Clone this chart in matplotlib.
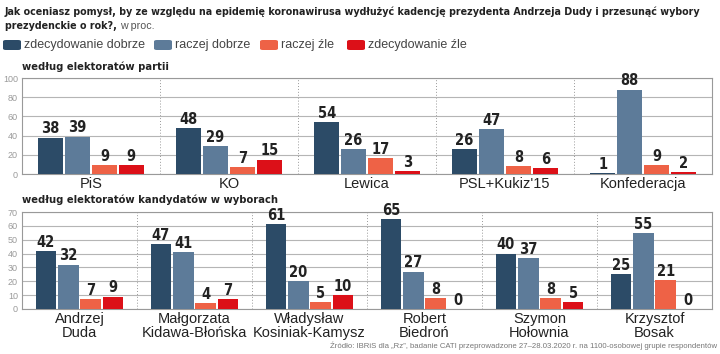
import matplotlib
matplotlib.use("Agg")
import matplotlib.pyplot as plt
import numpy as np
from matplotlib.patches import FancyBboxPatch
from matplotlib import font_manager
from matplotlib.font_manager import FontProperties
import logging
logging.getLogger('matplotlib.font_manager').setLevel(logging.ERROR)

series = ["zdecydowanie dobrze", "raczej dobrze", "raczej źle", "zdecydowanie źle"]
colors = ["#2c4b67", "#5d7b99", "#ee6246", "#dc1018"]

parties = ["PiS", "KO", "Lewica", "PSL+Kukiz'15", "Konfederacja"]
party_vals = [
    [38, 48, 54, 26, 1],
    [39, 29, 26, 47, 88],
    [9, 7, 17, 8, 9],
    [9, 15, 3, 6, 2],
]

candidates = ["Andrzej\nDuda", "Małgorzata\nKidawa-Błońska", "Władysław\nKosiniak-Kamysz",
              "Robert\nBiedroń", "Szymon\nHołownia", "Krzysztof\nBosak"]
cand_vals = [
    [42, 47, 61, 65, 40, 25],
    [32, 41, 20, 27, 37, 55],
    [7, 4, 5, 8, 8, 21],
    [9, 7, 10, 0, 5, 0],
]

names = {f.name for f in font_manager.fontManager.ttflist}
fams = [f for f in ["Liberation Sans Narrow", "Liberation Sans", "DejaVu Sans"] if f in names]
plt.rcParams['font.family'] = fams

# look for a condensed bold face for titles / value labels
cond_bold = None
for f in font_manager.fontManager.ttflist:
    fn = f.fname.lower()
    if ("condensed" in fn or "narrow" in fn) and "italic" not in fn and "oblique" not in fn:
        if "bold" in fn and cond_bold is None:
            cond_bold = f.fname

def fp_bold(size):
    if cond_bold:
        return FontProperties(fname=cond_bold, size=size)
    return FontProperties(family=fams, weight="bold", size=size)

def fp_reg(size):
    return FontProperties(family=fams, size=size)

fig = plt.figure(figsize=(7.2, 3.54), dpi=100)
fig.patch.set_facecolor("white")

def draw(ax, cats, vals, ymax, ystep):
    n = len(cats)
    step = 0.195
    width = 0.178
    for k in range(4):
        for i in range(n):
            x = i + (k - 1.5) * step
            v = vals[k][i]
            ax.bar(x, v, width=width, color=colors[k], zorder=3)
            ax.text(x, v + ymax * 0.012, str(v), ha="center", va="bottom",
                    fontproperties=fp_bold(10.5), color="#222222", zorder=4)
    ax.set_xlim(-0.5, n - 0.5)
    ax.set_ylim(0, ymax)
    ax.set_yticks(np.arange(0, ymax + 1, ystep))
    ax.tick_params(axis="y", length=0, labelsize=6.5, labelcolor="#9a9a9a", pad=3)
    ax.set_xticks(range(n))
    ax.set_xticklabels(cats, fontsize=10.5, color="#222222", linespacing=1.0)
    ax.tick_params(axis="x", length=0, pad=2)
    ax.grid(axis="y", color="#b5b5b5", linewidth=0.8, zorder=0)
    for i in range(1, n):
        ax.axvline(i - 0.5, color="#999999", linestyle=(0, (1, 2)), linewidth=0.7, zorder=1)
    for s in ax.spines.values():
        s.set_color("#999999")
        s.set_linewidth(0.8)

ax1 = fig.add_axes([22 / 720, 1 - 174 / 354, 690 / 720, 96 / 354])
draw(ax1, parties, party_vals, 100, 20)
ax2 = fig.add_axes([22 / 720, 1 - 309 / 354, 690 / 720, 97 / 354])
draw(ax2, candidates, cand_vals, 70, 10)

title1 = fig.text(5 / 720, 1 - 12 / 354,
         "Jak oceniasz pomysł, by ze względu na epidemię koronawirusa wydłużyć kadencję prezydenta Andrzeja Dudy i przesunąć wybory",
         fontproperties=fp_bold(9), color="#222222", va="center", ha="left")
fig.canvas.draw()
w = title1.get_window_extent().width
fs = min(9.5, 9 * 700 / w)
title1.set_fontsize(fs)
t = fig.text(5 / 720, 1 - 26 / 354, "prezydenckie o rok?,", fontproperties=fp_bold(fs),
             color="#222222", va="center", ha="left")
fig.canvas.draw()
bb = t.get_window_extent()
fig.text(bb.x1 / 720 + 3 / 720, 1 - 26 / 354, "w proc.", fontproperties=fp_reg(min(fs, 8.5)),
         color="#555555", va="center", ha="left")

leg_x = [3, 154, 260, 347]
for k in range(4):
    p = FancyBboxPatch((leg_x[k] / 720, 1 - 50 / 354), 18 / 720, 10 / 354,
                       boxstyle="round,pad=0,rounding_size=0.004", transform=fig.transFigure,
                       facecolor=colors[k], edgecolor="none")
    fig.patches.append(p)
    fig.text((leg_x[k] + 21) / 720, 1 - 45 / 354, series[k], fontsize=9, color="#444444",
             va="center", ha="left")

fig.text(22 / 720, 1 - 67 / 354, "według elektoratów partii", fontproperties=fp_bold(8),
         color="#222222", va="center", ha="left")
fig.text(22 / 720, 1 - 200 / 354, "według elektoratów kandydatów w wyborach",
         fontproperties=fp_bold(8), color="#222222", va="center", ha="left")
fig.text(717 / 720, 1 - 346 / 354,
         "Źródło: IBRiS dla „Rz”, badanie CATI przeprowadzone 27–28.03.2020 r. na 1100-osobowej grupie respondentów",
         fontsize=5.6, color="#777777", va="center", ha="right")

fig.savefig("out.png", dpi=100, facecolor="white")
